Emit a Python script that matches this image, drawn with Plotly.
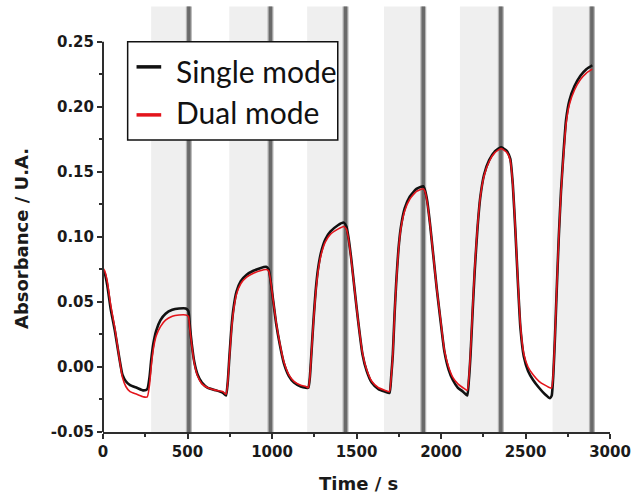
import plotly.graph_objects as go

# ---- data ----
time_s = [0, 10, 25, 45, 70, 95, 115, 135, 160, 200, 240, 262,
          275, 285, 298, 315, 340, 370, 410, 450, 490, 505,
          515, 525, 540, 560, 585, 620, 670, 710, 728,
          738, 748, 760, 772, 790, 815, 850, 890, 930, 965, 980,
          992, 1005, 1025, 1045, 1070, 1100, 1130, 1170, 1200, 1215,
          1224, 1232, 1245, 1258, 1272, 1290, 1315, 1345, 1390, 1425, 1440,
          1452, 1470, 1490, 1510, 1535, 1560, 1590, 1630, 1670, 1695,
          1705, 1715, 1725, 1735, 1748, 1762, 1785, 1815, 1855, 1895, 1905,
          1918, 1935, 1955, 1975, 1995, 2020, 2045, 2070, 2100, 2130, 2155,
          2165, 2175, 2188, 2200, 2215, 2232, 2255, 2285, 2320, 2355, 2370, 2390,
          2410, 2425, 2440, 2455, 2470, 2490, 2515, 2545, 2580, 2615, 2645, 2655,
          2665, 2675, 2685, 2697, 2710, 2725, 2740, 2760, 2790, 2825, 2860, 2895]

single_mode = [0.074, 0.072, 0.063, 0.045, 0.028, 0.008, -0.006, -0.011, -0.014, -0.016, -0.018, -0.017,
               -0.008, 0.005, 0.018, 0.028, 0.036, 0.041, 0.044, 0.045, 0.045, 0.043,
               0.030, 0.018, 0.004, -0.006, -0.012, -0.016, -0.018, -0.020, -0.022,
               -0.012, 0.008, 0.030, 0.045, 0.058, 0.066, 0.071, 0.074, 0.076, 0.077, 0.075,
               0.066, 0.053, 0.033, 0.018, 0.003, -0.007, -0.012, -0.015, -0.016, -0.016,
               -0.008, 0.008, 0.035, 0.058, 0.075, 0.088, 0.098, 0.104, 0.109, 0.111, 0.108,
               0.100, 0.082, 0.058, 0.035, 0.010, -0.003, -0.012, -0.017, -0.019, -0.020,
               -0.008, 0.010, 0.040, 0.065, 0.090, 0.107, 0.122, 0.131, 0.137, 0.139, 0.136,
               0.128, 0.110, 0.085, 0.060, 0.038, 0.012, -0.002, -0.010, -0.016, -0.019, -0.022,
               -0.010, 0.010, 0.045, 0.075, 0.105, 0.130, 0.148, 0.159, 0.166, 0.169, 0.168, 0.166,
               0.160, 0.140, 0.105, 0.065, 0.030, 0.008, -0.003, -0.010, -0.016, -0.021, -0.024, -0.022,
               -0.005, 0.025, 0.060, 0.100, 0.135, 0.165, 0.190, 0.205, 0.216, 0.224, 0.229, 0.232]

dual_mode = [0.076, 0.074, 0.066, 0.048, 0.030, 0.008, -0.008, -0.015, -0.019, -0.021, -0.023, -0.023,
             -0.014, 0.000, 0.014, 0.024, 0.031, 0.036, 0.039, 0.040, 0.040, 0.039,
             0.028, 0.017, 0.003, -0.007, -0.013, -0.016, -0.018, -0.019, -0.021,
             -0.012, 0.007, 0.028, 0.043, 0.056, 0.064, 0.069, 0.072, 0.074, 0.075, 0.074,
             0.066, 0.053, 0.034, 0.019, 0.004, -0.006, -0.011, -0.014, -0.015, -0.016,
             -0.008, 0.008, 0.034, 0.056, 0.073, 0.086, 0.096, 0.102, 0.106, 0.108, 0.106,
             0.099, 0.081, 0.058, 0.035, 0.011, -0.002, -0.011, -0.016, -0.018, -0.019,
             -0.008, 0.010, 0.040, 0.064, 0.089, 0.106, 0.120, 0.129, 0.135, 0.137, 0.135,
             0.127, 0.110, 0.085, 0.060, 0.039, 0.013, 0.000, -0.008, -0.013, -0.016, -0.018,
             -0.008, 0.012, 0.047, 0.077, 0.106, 0.130, 0.147, 0.158, 0.165, 0.168, 0.167, 0.165,
             0.159, 0.140, 0.106, 0.066, 0.032, 0.010, 0.000, -0.006, -0.011, -0.014, -0.016, -0.016,
             -0.003, 0.026, 0.061, 0.100, 0.134, 0.163, 0.187, 0.202, 0.213, 0.221, 0.226, 0.229]

band_start_s = [285, 747, 1208, 1663, 2112, 2660]
band_end_s = [508, 991, 1435, 1895, 2354, 2893]

x_ticks = [0, 500, 1000, 1500, 2000, 2500, 3000]
y_ticks = [-0.05, 0.00, 0.05, 0.10, 0.15, 0.20, 0.25]

legend_labels = ["Single mode", "Dual mode"]
series_colors = ["#111111", "#e3141b"]
x_title = "Time / s"
y_title = "Absorbance / U.A."

# ---- figure ----
fig = go.Figure()

tick_font = dict(family="DejaVu Sans", size=15, color="#1a1a1a", weight="bold")
title_font = dict(family="DejaVu Sans", size=18, color="#1a1a1a", weight="bold")
AX = "#2e2e2e"

PLOT_L, PLOT_R, PLOT_T, PLOT_B = 103, 617, 10.15, 432
def px(xp):
    return (xp - PLOT_L) / (PLOT_R - PLOT_L)
def py(yp):
    return (PLOT_B - yp) / (PLOT_B - PLOT_T)

shapes = []
# shaded bands and dark separator lines
for s, e in zip(band_start_s, band_end_s):
    shapes.append(dict(type="rect", xref="x", yref="paper", x0=s, x1=e, y0=0, y1=1.008,
                       fillcolor="#efefef", line=dict(width=0), layer="below"))
    shapes.append(dict(type="line", xref="x", yref="paper", x0=e, x1=e, y0=0, y1=1.008,
                       line=dict(color="#b4b4b4", width=6), layer="below"))
    shapes.append(dict(type="line", xref="x", yref="paper", x0=e, x1=e, y0=0, y1=1.008,
                       line=dict(color="#6a6a6a", width=3.5), layer="below"))

# y axis line (stops at the last labelled tick)
shapes.append(dict(type="line", xref="paper", yref="y", x0=0, x1=0,
                   y0=y_ticks[0], y1=y_ticks[-1], line=dict(color=AX, width=2)))

fig.add_trace(go.Scatter(x=time_s, y=single_mode, mode="lines", name=legend_labels[0],
                         line=dict(color=series_colors[0], width=2.6, shape="spline", smoothing=0.5),
                         showlegend=False))
fig.add_trace(go.Scatter(x=time_s, y=dual_mode, mode="lines", name=legend_labels[1],
                         line=dict(color=series_colors[1], width=1.6, shape="spline", smoothing=0.5),
                         showlegend=False))

# manual legend box
shapes.append(dict(type="rect", xref="paper", yref="paper", x0=px(128), x1=px(341),
                   y0=py(140), y1=py(42), line=dict(color="#111111", width=1.5),
                   fillcolor="white", layer="above"))
annotations = []
for lab, col, ly, ty in zip(legend_labels, series_colors, [67, 115], [71, 112]):
    shapes.append(dict(type="line", xref="paper", yref="paper", x0=px(137), x1=px(162),
                       y0=py(ly), y1=py(ly), line=dict(color=col, width=3.5), layer="above"))
    annotations.append(dict(xref="paper", yref="paper", x=px(175), y=py(ty), text=lab,
                            showarrow=False, xanchor="left", yanchor="middle",
                            font=dict(family="Lato", size=30, color="#111111")))

# axis titles
annotations.append(dict(xref="paper", yref="paper", x=px(362), y=py(483), text=x_title,
                        showarrow=False, xanchor="center", yanchor="middle", font=title_font))
annotations.append(dict(xref="paper", yref="paper", x=px(21), y=py(239), text=y_title,
                        textangle=-90, showarrow=False, xanchor="center", yanchor="middle",
                        font=title_font))

fig.update_layout(
    width=641, height=496,
    margin=dict(l=103, r=24, t=10, b=64),
    paper_bgcolor="white", plot_bgcolor="white",
    shapes=shapes, annotations=annotations,
    showlegend=False,
    xaxis=dict(range=[0, 3000], tickvals=x_ticks, ticktext=[str(v) for v in x_ticks],
               showgrid=False, zeroline=False, showline=True, linecolor=AX, linewidth=2,
               ticks="outside", ticklen=5, tickwidth=2, tickcolor=AX, tickfont=tick_font,
               minor=dict(dtick=250, tick0=0, ticks="outside", ticklen=3, tickwidth=2, tickcolor=AX)),
    yaxis=dict(range=[-0.05, 0.2745], tickvals=y_ticks, ticktext=[f"{v:.2f}" for v in y_ticks],
               showgrid=False, zeroline=False, showline=False,
               ticks="outside", ticklen=5, tickwidth=2, tickcolor=AX, tickfont=tick_font,
               minor=dict(dtick=0.025, tick0=-0.05, ticks="outside", ticklen=3, tickwidth=2, tickcolor=AX)),
)

fig.write_html("out.html")
